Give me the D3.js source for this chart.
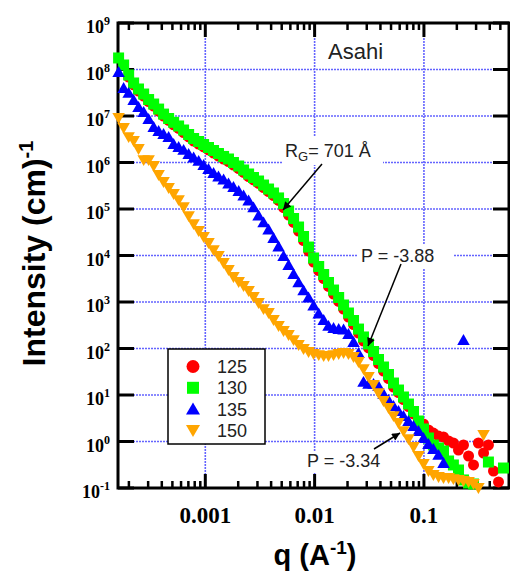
<!DOCTYPE html>
<html>
<head>
<meta charset="utf-8">
<script src="https://cdn.jsdelivr.net/npm/d3@7"></script>
<style>
  body { margin: 0; background: #fff; }
</style>
</head>
<body>
<svg id="chart"></svg>
<script>
// q (1/A) shared by all four runs
const q = [
  1.61e-4, 1.79e-4, 1.99e-4, 2.21e-4, 2.45e-4, 2.73e-4, 3.03e-4, 3.37e-4, 3.74e-4, 4.15e-4,
  4.62e-4, 5.13e-4, 5.70e-4, 6.33e-4, 7.04e-4, 7.82e-4, 8.69e-4, 9.65e-4, 1.07e-3, 1.19e-3,
  1.32e-3, 1.47e-3, 1.63e-3, 1.81e-3, 2.02e-3, 2.24e-3, 2.49e-3, 2.76e-3, 3.07e-3, 3.41e-3,
  3.79e-3, 4.21e-3, 4.68e-3, 5.20e-3, 5.78e-3, 6.42e-3, 7.13e-3, 7.92e-3, 8.80e-3, 9.78e-3,
  1.09e-2, 1.21e-2, 1.34e-2, 1.49e-2, 1.66e-2, 1.84e-2, 2.04e-2, 2.27e-2, 2.52e-2, 2.80e-2,
  3.11e-2, 3.46e-2, 3.84e-2, 4.27e-2, 4.74e-2, 5.27e-2, 5.85e-2, 6.50e-2, 7.22e-2, 8.03e-2,
  8.92e-2, 9.91e-2, 0.110, 0.122, 0.136, 0.151, 0.168, 0.186, 0.207, 0.230,
  0.256, 0.284, 0.315, 0.351, 0.389, 0.433, 0.481, 0.534, 0.593
];

const i125 = [
  null, null, 6.90e7, 4.65e7, 3.45e7, 2.69e7, 2.05e7, 1.64e7, 1.28e7, 9.97e6,
  8.01e6, 6.47e6, 5.39e6, 4.42e6, 3.54e6, 2.90e6, 2.50e6, 2.16e6, 1.86e6, 1.60e6,
  1.38e6, 1.19e6, 1.05e6, 8.84e5, 7.43e5, 6.10e5, 5.00e5, 4.21e5, 3.54e5, 2.90e5,
  2.38e5, 1.95e5, 1.53e5, 1.07e5, 7.43e4, 5.13e4, 3.36e4, 2.10e4, 1.25e4, 7.25e3,
  4.76e3, 3.20e3, 2.16e3, 1.48e3, 1.03e3, 707, 476, 328, 215, 145,
  103, 70.6, 47.6, 32.8, 22.6, 14.8, 11.3, 8.00, 5.66, 3.91,
  2.62, 2.38, 1.77, 1.52, 1.31, 1.25, 1.03, 0.929, 0.656, 0.841,
  0.488, 0.313, 0.929, 0.566, 0.841, 0.232, 0.135, null, null
];

const i130 = [
  1.77e8, 1.25e8, 7.62e7, 5.13e7, 3.81e7, 2.97e7, 2.26e7, 1.81e7, 1.41e7, 1.10e7,
  8.84e6, 7.32e6, 6.10e6, 5.00e6, 4.00e6, 3.28e6, 2.83e6, 2.44e6, 2.10e6, 1.81e6,
  1.56e6, 1.35e6, 1.19e6, 1.00e6, 8.41e5, 6.90e5, 5.66e5, 4.76e5, 4.00e5, 3.28e5,
  2.69e5, 2.21e5, 1.73e5, 1.31e5, 9.06e4, 6.25e4, 4.10e4, 2.56e4, 1.52e4, 8.84e3,
  5.80e3, 3.90e3, 2.63e3, 1.81e3, 1.25e3, 862, 580, 400, 262, 177,
  125, 86.1, 58.0, 40.0, 27.6, 18.1, 12.8, 9.06, 6.40, 4.42,
  2.76, 1.86, 1.19, 0.841, 0.724, 0.625, 0.381, 0.313, 0.244, 0.149,
  0.128, 0.122, null, null, 0.362, null, null, 0.269, null
];

const i135 = [
  8.84e7, 4.00e7, 3.13e7, 2.21e7, 1.56e7, 1.22e7, 8.62e6, 5.80e6, 4.76e6, 4.10e6,
  3.53e6, 2.50e6, 2.15e6, 1.86e6, 1.52e6, 1.28e6, 1.08e6, 8.84e5, 7.24e5, 5.94e5,
  5.00e5, 4.31e5, 3.53e5, 2.97e5, 2.44e5, 1.95e5, 1.52e5, 1.08e5, 7.24e4, 5.13e4,
  3.62e4, 2.38e4, 1.56e4, 9.75e3, 6.25e3, 4.00e3, 2.63e3, 1.77e3, 1.25e3, 841,
  566, 410, 305, 276, 262, 256, 205, 138, 80.0, 19.1,
  17.3, 17.3, 15.6, 10.5, 7.80, 5.80, 4.53, 3.53, 2.76, 2.15,
  1.68, 1.19, 0.883, 0.690, 0.513, 0.345, null, null, null, 152,
  null, null, null, null, null, null, null, null, null
];

const i150 = [
  9.06e6, 5.52e6, 3.53e6, 2.90e6, 1.95e6, 1.13e6, 1.13e6, 8.41e5, 5.38e5, 3.81e5,
  2.83e5, 2.10e5, 1.56e5, 1.10e5, 7.06e4, 4.75e4, 3.37e4, 2.50e4, 1.86e4, 1.31e4,
  9.75e3, 6.90e3, 4.88e3, 3.45e3, 2.69e3, 2.21e3, 1.73e3, 1.28e3, 951, 706,
  580, 410, 305, 238, 195, 152, 119, 97.5, 84.1, 76.2,
  72.4, 69.0, 69.0, 72.4, 76.2, 80.0, 76.2, 65.6, 51.3, 36.2,
  24.4, 16.4, 11.0, 7.43, 5.25, 3.53, 2.50, 1.68, 1.13, 0.762,
  0.488, 0.328, 0.232, 0.191, 0.173, 0.164, 0.164, 0.156, 0.149, 0.142,
  0.135, 0.122, 0.100, 1.38, null, null, null, null, null
];

const seriesNames = ['125', '130', '135', '150'];
const seriesValues = [i125, i130, i135, i150];
const seriesColors = ['#ff0000', '#00ff00', '#0000ff', '#ffa500'];
const seriesShapes = ['circle', 'square', 'up', 'down'];

const xMajorTicks = [0.001, 0.01, 0.1];
const xTickLabels = ['0.001', '0.01', '0.1'];
const yExponents = [-1, 0, 1, 2, 3, 4, 5, 6, 7, 8, 9];

const W = 510, H = 573;
const pLeft = 118, pRight = 509, pTop = 23, pBottom = 488;

const svg = d3.select('#chart').attr('width', W).attr('height', H);

const x = d3.scaleLog().domain([1.59e-4, 0.6]).range([pLeft, pRight]);
const y = d3.scaleLog().domain([0.1, 1e9]).range([pBottom, pTop]);

// grid
const grid = svg.append('g')
  .attr('stroke', '#6464ff')
  .attr('stroke-width', 1.6)
  .attr('stroke-dasharray', '2,1');
grid.selectAll('.vg').data(xMajorTicks).enter().append('line')
  .attr('x1', d => x(d)).attr('x2', d => x(d))
  .attr('y1', pTop).attr('y2', pBottom);
grid.selectAll('.hg').data(yExponents.slice(1, -1)).enter().append('line')
  .attr('x1', pLeft).attr('x2', pRight)
  .attr('y1', e => y(Math.pow(10, e))).attr('y2', e => y(Math.pow(10, e)));

// frame and ticks
svg.append('rect')
  .attr('x', pLeft).attr('y', pTop)
  .attr('width', pRight - pLeft).attr('height', pBottom - pTop)
  .attr('fill', 'none').attr('stroke', '#000').attr('stroke-width', 3);

const minorX = [];
[-4, -3, -2, -1].forEach(function(e) {
  for (let m = 2; m <= 9; m++) {
    const v = m * Math.pow(10, e);
    if (v > x.domain()[0] && v < x.domain()[1]) minorX.push(v);
  }
});
const ticks = svg.append('g').attr('stroke', '#000');
[[pTop, 1], [pBottom, -1]].forEach(function(side) {
  ticks.selectAll(null).data(minorX).enter().append('line')
    .attr('stroke-width', 2.5)
    .attr('x1', d => x(d)).attr('x2', d => x(d))
    .attr('y1', side[0]).attr('y2', side[0] + side[1] * 7);
  ticks.selectAll(null).data(xMajorTicks).enter().append('line')
    .attr('stroke-width', 3)
    .attr('x1', d => x(d)).attr('x2', d => x(d))
    .attr('y1', side[0]).attr('y2', side[0] + side[1] * 14);
});
[[pLeft, 1], [pRight, -1]].forEach(function(side) {
  ticks.selectAll(null).data(yExponents).enter().append('line')
    .attr('stroke-width', 3)
    .attr('x1', side[0]).attr('x2', side[0] + side[1] * 16)
    .attr('y1', e => y(Math.pow(10, e))).attr('y2', e => y(Math.pow(10, e)));
});

// tick labels
const yLab = svg.selectAll('.ylab').data(yExponents).enter().append('text')
  .attr('class', 'ylab')
  .attr('x', 110).attr('y', e => y(Math.pow(10, e)) + 10)
  .attr('text-anchor', 'end')
  .style('font-family', '"Liberation Serif", "Times New Roman", serif')
  .style('font-weight', 'bold').style('font-size', '18px');
yLab.append('tspan').text('10');
yLab.append('tspan').attr('dy', -8).style('font-size', '12px').text(e => e);

svg.selectAll('.xlab').data(xMajorTicks).enter().append('text')
  .attr('x', d => x(d)).attr('y', 523)
  .attr('text-anchor', 'middle')
  .style('font-family', '"Liberation Serif", "Times New Roman", serif')
  .style('font-weight', 'bold').style('font-size', '23px')
  .text((d, i) => xTickLabels[i]);

// axis titles
const xt = svg.append('text')
  .attr('x', 315).attr('y', 565).attr('text-anchor', 'middle')
  .style('font-family', '"Liberation Sans", Arial, sans-serif')
  .style('font-weight', 'bold').style('font-size', '29px');
xt.append('tspan').text('q (A');
xt.append('tspan').attr('dy', -11).style('font-size', '19px').text('-1');
xt.append('tspan').attr('dy', 11).text(')');

const yt = svg.append('text')
  .attr('transform', 'translate(45,253.5) rotate(-90)')
  .attr('text-anchor', 'middle')
  .style('font-family', '"Liberation Sans", Arial, sans-serif')
  .style('font-weight', 'bold').style('font-size', '32px');
yt.append('tspan').text('Intensity (cm)');
yt.append('tspan').attr('dy', -12).style('font-size', '20px').text('-1');

// markers
function shapePath(shape, s) {
  if (shape === 'circle') return d3.symbol().type(d3.symbolCircle).size(Math.PI * s * s / 4)();
  if (shape === 'square') return d3.symbol().type(d3.symbolSquare).size(s * s)();
  const h = s * 0.87;
  if (shape === 'up') return 'M0,' + (-h * 0.55) + 'L' + (s / 2) + ',' + (h * 0.45) + 'L' + (-s / 2) + ',' + (h * 0.45) + 'Z';
  return 'M0,' + (h * 0.55) + 'L' + (s / 2) + ',' + (-h * 0.45) + 'L' + (-s / 2) + ',' + (-h * 0.45) + 'Z';
}
const markerSize = { circle: 11, square: 11, up: 12.5, down: 12.5 };

seriesValues.forEach(function(vals, si) {
  const pts = q.map((qq, i) => ({ q: qq, v: vals[i] })).filter(d => d.v != null);
  svg.append('g').selectAll('path').data(pts).enter().append('path')
    .attr('transform', d => 'translate(' + x(d.q) + ',' + y(d.v) + ')')
    .attr('d', shapePath(seriesShapes[si], markerSize[seriesShapes[si]]))
    .attr('fill', seriesColors[si]);
});

// annotations
const annFont = '"Liberation Sans", Arial, sans-serif';
svg.append('defs').append('marker')
  .attr('id', 'arr').attr('viewBox', '0 0 10 10')
  .attr('refX', 10).attr('refY', 5)
  .attr('markerWidth', 11).attr('markerHeight', 8)
  .attr('markerUnits', 'userSpaceOnUse')
  .attr('orient', 'auto')
  .append('path').attr('d', 'M0,0L10,5L0,10Z').attr('fill', '#000');

svg.append('text').attr('x', 328).attr('y', 59)
  .style('font-family', annFont).style('font-size', '22px').attr('fill', '#222')
  .text('Asahi');

svg.append('rect').attr('x', 282).attr('y', 137).attr('width', 101).attr('height', 28).attr('fill', '#fff');
const rg = svg.append('text').attr('x', 285).attr('y', 156.5)
  .style('font-family', annFont).style('font-size', '18px').attr('fill', '#222');
rg.append('tspan').text('R');
rg.append('tspan').attr('dy', 4).style('font-size', '13px').text('G');
rg.append('tspan').attr('dy', -4).text('= 701 Å');

svg.append('rect').attr('x', 357).attr('y', 244).attr('width', 96).attr('height', 24).attr('fill', '#fff');
svg.append('text').attr('x', 361).attr('y', 261.5)
  .style('font-family', annFont).style('font-size', '18px').attr('fill', '#222')
  .text('P = -3.88');

svg.append('rect').attr('x', 304).attr('y', 452).attr('width', 79).attr('height', 20).attr('fill', '#fff');
svg.append('text').attr('x', 307).attr('y', 467)
  .style('font-family', annFont).style('font-size', '18px').attr('fill', '#222')
  .text('P = -3.34');

const arrows = [[322, 164, 283, 210], [401, 264, 368, 346], [374, 449, 400, 433]];
svg.selectAll('.arrow').data(arrows).enter().append('line')
  .attr('x1', d => d[0]).attr('y1', d => d[1])
  .attr('x2', d => d[2]).attr('y2', d => d[3])
  .attr('stroke', '#000').attr('stroke-width', 1.5)
  .attr('marker-end', 'url(#arr)');

// legend
const leg = svg.append('g');
leg.append('rect').attr('x', 168).attr('y', 349).attr('width', 97).attr('height', 95)
  .attr('fill', '#fff').attr('stroke', '#000').attr('stroke-width', 1.5);
seriesNames.forEach(function(name, i) {
  const ly = 366.5 + i * 21.3;
  leg.append('path')
    .attr('transform', 'translate(193,' + ly + ')')
    .attr('d', shapePath(seriesShapes[i], seriesShapes[i] === 'circle' ? 13 : (seriesShapes[i] === 'square' ? 12 : 14)))
    .attr('fill', seriesColors[i]);
  leg.append('text').attr('x', 217).attr('y', ly + 6.5)
    .style('font-family', annFont).style('font-size', '18px').attr('fill', '#222')
    .text(name);
});
</script>
</body>
</html>
